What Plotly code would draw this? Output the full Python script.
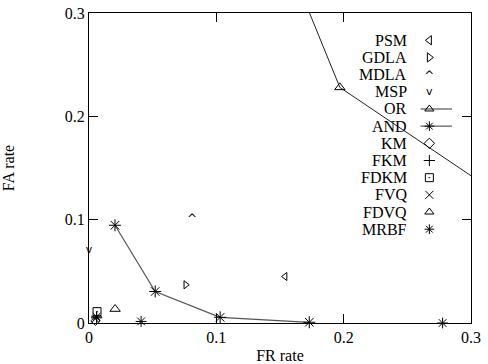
import plotly.graph_objects as go

# ---- data (FR rate, FA rate) ----
psm_fr, psm_fa = [0.154], [0.045]
gdla_fr, gdla_fa = [0.076], [0.037]
mdla_fr, mdla_fa = [0.081], [0.100]
msp_fr, msp_fa = [0.0], [0.070]
or_fr, or_fa = [0.150, 0.197, 0.350], [0.370, 0.228, 0.101]
and_fr, and_fa = [0.0204, 0.052, 0.103, 0.173], [0.0946, 0.0305, 0.0055, 0.0007]
km_fr, km_fa = [0.005], [0.002]
fkm_fr, fkm_fa = [0.006], [0.005]
fdkm_fr, fdkm_fa = [0.0063], [0.011]
fvq_fr, fvq_fa = [0.005], [0.004]
fdvq_fr, fdvq_fa = [0.0205], [0.0135]
mrbf_fr, mrbf_fa = [0.0409, 0.2777, 0.006], [0.0015, 0.0, 0.006]

legend_labels = ["PSM", "GDLA", "MDLA", "MSP", "OR", "AND", "KM", "FKM",
                 "FDKM", "FVQ", "FDVQ", "MRBF"]
legend_symbols = ["triangle-left-open", "triangle-right-open", "^",
                  "v", "triangle-up-open", "asterisk-open",
                  "diamond-open", "cross-thin-open", "square-open-dot",
                  "x-thin-open", "triangle-up-open", "asterisk-open"]
legend_has_line = [False, False, False, False, True, True, False, False,
                   False, False, False, False]

FONT = "Liberation Serif"
BLACK = "#000000"

fig = go.Figure()

def pts(x, y, symbol, size=8, mode="markers", line_color="#000", lw=1):
    return go.Scatter(
        x=x, y=y, mode=mode,
        marker=dict(symbol=symbol, size=size, color=BLACK,
                    line=dict(color=BLACK, width=1)),
        line=dict(color=line_color, width=lw),
        showlegend=False, cliponaxis=False, hoverinfo="skip")

def chevron(x, y, ch):
    size = 12 if ch == "^" else 11
    return go.Scatter(x=x, y=y, mode="text", text=[ch] * len(x),
                      textposition="middle center",
                      textfont=dict(family="DejaVu Sans", size=size, color=BLACK),
                      showlegend=False, cliponaxis=False, hoverinfo="skip")

fig.add_trace(pts(or_fr, or_fa, "triangle-up-open", 9, "lines+markers", "#222", 1))
fig.add_trace(pts(and_fr, and_fa, "asterisk-open", 10, "lines+markers", "#555", 1.2))
fig.add_trace(pts(psm_fr, psm_fa, "triangle-left-open", 7))
fig.add_trace(pts(gdla_fr, gdla_fa, "triangle-right-open", 7))
fig.add_trace(chevron(mdla_fr, mdla_fa, "^"))
fig.add_trace(chevron(msp_fr, msp_fa, "v"))
fig.add_trace(pts(km_fr, km_fa, "diamond-open", 7))
fig.add_trace(pts(fkm_fr, fkm_fa, "cross-thin-open", 8))
fig.add_trace(pts(fdkm_fr, fdkm_fa, "square-open-dot", 8))
fig.add_trace(pts(fvq_fr, fvq_fa, "x-thin-open", 7))
fig.add_trace(pts(fdvq_fr, fdvq_fa, "triangle-up-open", 9))
fig.add_trace(pts(mrbf_fr, mrbf_fa, "asterisk-open", 9))

# ---- legend drawn inside plot (text left, symbol right) ----
row_top = 0.912   # fraction of plot height for first row
row_step = 0.0554
sym_x = 0.891
txt_x = 0.838
for i, (lab, sym, hl) in enumerate(zip(legend_labels, legend_symbols, legend_has_line)):
    yy = row_top - i * row_step
    if hl:
        fig.add_trace(go.Scatter(
            x=[0.868, 0.95], y=[yy, yy], mode="lines", xaxis="x2", yaxis="y2",
            line=dict(color="#555", width=1.2), showlegend=False, hoverinfo="skip"))
    if sym in ("^", "v"):
        tr = chevron([sym_x], [yy - (0.008 if sym == "^" else 0)], sym)
        tr.update(xaxis="x2", yaxis="y2")
        fig.add_trace(tr)
    else:
        fig.add_trace(go.Scatter(
            x=[sym_x], y=[yy], mode="markers", xaxis="x2", yaxis="y2",
            marker=dict(symbol=sym, size=8, color=BLACK, line=dict(color=BLACK, width=1)),
            showlegend=False, hoverinfo="skip", cliponaxis=False))
    fig.add_annotation(x=txt_x, y=yy, xref="x2", yref="y2", text=lab,
                       showarrow=False, xanchor="right", yanchor="middle",
                       font=dict(family=FONT, size=16, color=BLACK))

axis_common = dict(
    showline=True, linecolor=BLACK, linewidth=1.2, mirror="allticks",
    ticks="inside", ticklen=9, tickwidth=1.2, tickcolor=BLACK,
    showgrid=False, zeroline=False,
    tickfont=dict(family=FONT, size=16, color=BLACK),
    title_font=dict(family=FONT, size=16, color=BLACK),
)

fig.update_layout(
    width=488, height=364,
    margin=dict(l=89, r=17, t=13, b=41),
    paper_bgcolor="white", plot_bgcolor="white",
    xaxis=dict(range=[0, 0.3], tickvals=[0, 0.1, 0.2, 0.3],
               ticktext=["0", "0.1", "0.2", "0.3"],
               title=dict(text="FR rate", standoff=6), **axis_common),
    yaxis=dict(range=[0, 0.3], tickvals=[0, 0.1, 0.2, 0.3],
               ticktext=["0", "0.1", "0.2", "0.3"],
               title=dict(text="FA rate", standoff=54), **axis_common),
    xaxis2=dict(range=[0, 1], overlaying="x", visible=False, fixedrange=True),
    yaxis2=dict(range=[0, 1], overlaying="y", visible=False, fixedrange=True),
    font=dict(family=FONT, color=BLACK),
)
fig.update_xaxes(automargin=False)
fig.update_yaxes(automargin=False)

fig.write_html("out.html")
